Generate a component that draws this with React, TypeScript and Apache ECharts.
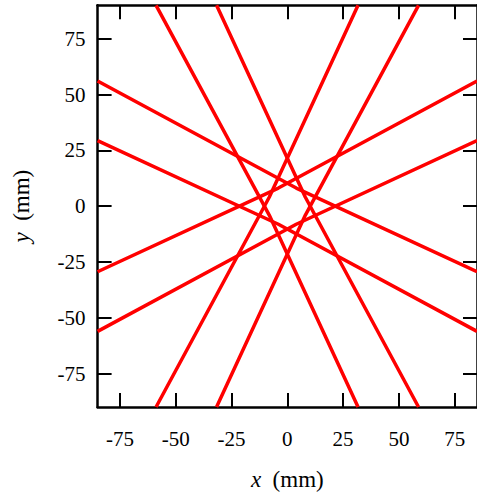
import React, { useEffect, useRef } from "react";
import * as echarts from "echarts";

const xTicks = [-75, -50, -25, 0, 25, 50, 75];
const yTicks = [-75, -50, -25, 0, 25, 50, 75];

const pathS1 = [[-85, 56.1], [4.0, 8.1], [85, -29.4]];
const pathS2 = [[85, 56.1], [-4.0, 8.1], [-85, -29.4]];
const pathS3 = [[-85, -56.1], [4.0, -8.1], [85, 29.4]];
const pathS4 = [[85, -56.1], [-4.0, -8.1], [-85, 29.4]];
const pathT1 = [[-31.7, 90], [8.1, 4.0], [58.8, -90]];
const pathT2 = [[31.7, 90], [-8.1, 4.0], [-58.8, -90]];
const pathT3 = [[-31.7, -90], [8.1, -4.0], [58.8, 90]];
const pathT4 = [[31.7, -90], [-8.1, -4.0], [-58.8, 90]];

const paths = [pathS1, pathS2, pathS3, pathS4, pathT1, pathT2, pathT3, pathT4];

const FONT = "'Liberation Serif', 'Times New Roman', serif";

export default function App() {
  const ref = useRef<HTMLDivElement>(null);
  useEffect(() => {
    if (!ref.current) return;
    const chart = echarts.init(ref.current, undefined, { renderer: "svg" });
    const axisLine = { show: true, onZero: false, lineStyle: { color: "#000", width: 2.5 } };
    const tick = (vals: number[]) => ({
      show: true,
      inside: true,
      length: 14,
      customValues: vals,
      lineStyle: { color: "#000", width: 2 },
    });
    const rich = {
      i: { fontFamily: FONT, fontStyle: "italic", fontSize: 23, color: "#000" },
    };
    chart.setOption({
      animation: false,
      backgroundColor: "#fff",
      grid: { left: 97.6, top: 5.3, width: 384.1, height: 406.7 },
      xAxis: [
        {
          type: "value",
          min: -85,
          max: 85,
          position: "bottom",
          axisLine,
          axisTick: tick(xTicks),
          splitLine: { show: false },
          axisLabel: {
            customValues: xTicks,
            margin: 21,
            fontFamily: FONT,
            fontSize: 21,
            color: "#000",
          },
          name: "{i|x}  (mm)",
          nameLocation: "middle",
          nameGap: 61,
          nameTextStyle: { fontFamily: FONT, fontSize: 23, color: "#000", rich },
        },
        {
          type: "value",
          min: -85,
          max: 85,
          position: "top",
          axisLine,
          axisTick: tick(xTicks),
          splitLine: { show: false },
          axisLabel: { show: false },
        },
      ],
      yAxis: [
        {
          type: "value",
          min: -90,
          max: 90,
          position: "left",
          axisLine,
          axisTick: tick(yTicks),
          splitLine: { show: false },
          axisLabel: {
            customValues: yTicks,
            margin: 12,
            fontFamily: FONT,
            fontSize: 21,
            color: "#000",
          },
          name: "{i|y}  (mm)",
          nameLocation: "middle",
          nameGap: 65,
          nameTextStyle: { fontFamily: FONT, fontSize: 23, color: "#000", rich },
        },
        {
          type: "value",
          min: -90,
          max: 90,
          position: "right",
          axisLine,
          axisTick: tick(yTicks),
          splitLine: { show: false },
          axisLabel: { show: false },
        },
      ],
      series: paths.map((p) => ({
        type: "line",
        data: p,
        xAxisIndex: 0,
        yAxisIndex: 0,
        showSymbol: false,
        symbol: "none",
        clip: true,
        lineStyle: { color: "#ff0000", width: 3.5 },
      })),
    });
    return () => chart.dispose();
  }, []);
  return (
    <div
      ref={ref}
      style={{ position: "fixed", left: 0, top: 0, width: 477, height: 496 }}
    />
  );
}
